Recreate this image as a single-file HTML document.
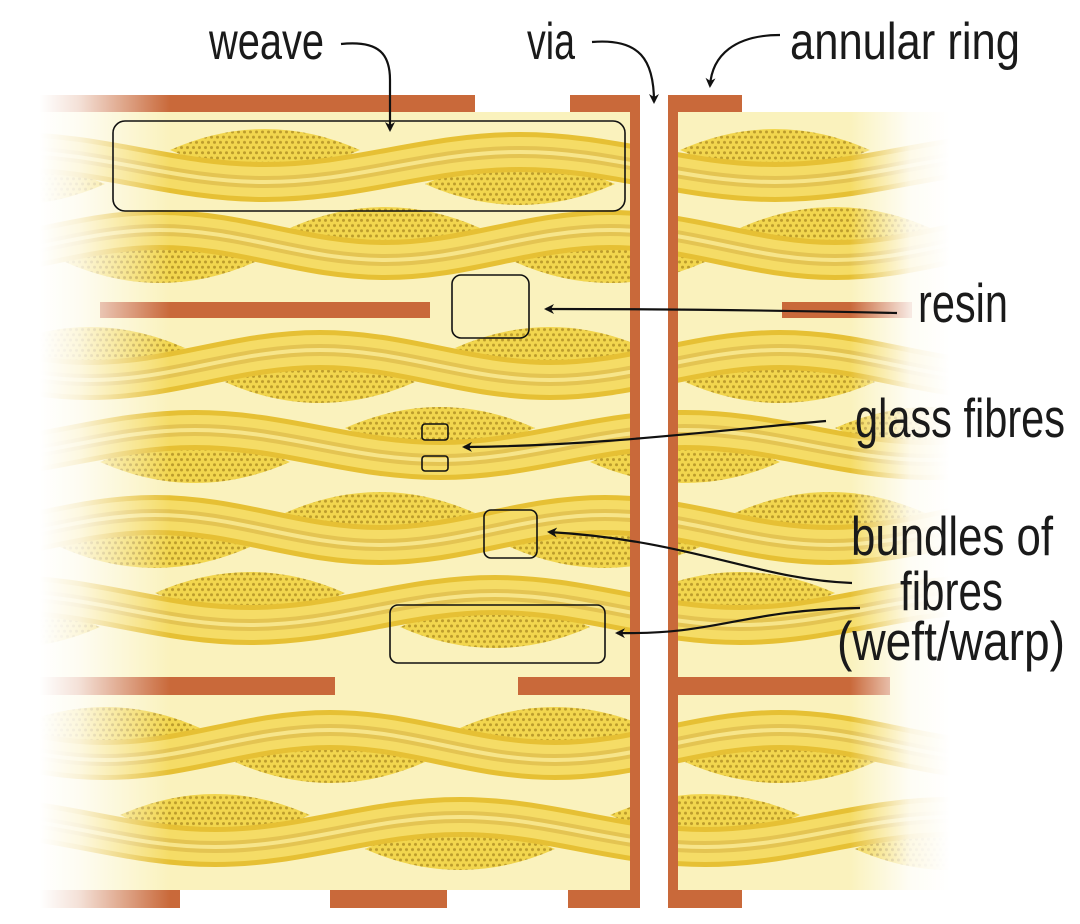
<!DOCTYPE html>
<html><head><meta charset="utf-8"><style>
html,body{margin:0;padding:0;background:#fff;}
svg{display:block;}
text{font-family:"Liberation Sans",sans-serif;fill:#1a1a1a;}
</style></head><body>
<svg width="1080" height="924" viewBox="0 0 1080 924" xmlns="http://www.w3.org/2000/svg">
<defs>
<pattern id="dots" width="6" height="10.4" patternUnits="userSpaceOnUse">
<rect width="6" height="10.4" fill="#f2d64e"/>
<circle cx="1.5" cy="2" r="1.5" fill="#bc9c2c"/>
<circle cx="4.5" cy="7.2" r="1.5" fill="#bc9c2c"/>
</pattern>
<clipPath id="board">
<rect x="0" y="112" width="630" height="778"/>
<rect x="678" y="112" width="402" height="778"/>
</clipPath>
<linearGradient id="fl" x1="0" x2="1" y1="0" y2="0">
<stop offset="0" stop-color="#fff" stop-opacity="1"/>
<stop offset="0.3" stop-color="#fff" stop-opacity="0.8"/>
<stop offset="1" stop-color="#fff" stop-opacity="0"/>
</linearGradient>
<linearGradient id="fr" x1="0" x2="1" y1="0" y2="0">
<stop offset="0" stop-color="#fff" stop-opacity="0"/>
<stop offset="0.6" stop-color="#fff" stop-opacity="0.85"/>
<stop offset="1" stop-color="#fff" stop-opacity="1"/>
</linearGradient>
<marker id="ah" markerWidth="10" markerHeight="10" refX="8" refY="5" orient="auto" markerUnits="userSpaceOnUse" viewBox="0 0 10 10">
<path d="M0,0 L10,5 L0,10 L3,5 z" fill="#111"/>
</marker>
</defs>

<rect x="40" y="112" width="590" height="778" fill="#faf2bd"/>
<rect x="678" y="112" width="280" height="778" fill="#faf2bd"/>

<g clip-path="url(#board)">
<g fill="url(#dots)">
<path d="M170,150 Q265,108 360,150 Q265,192 170,150Z"/>
<path d="M425,184 Q520,142 615,184 Q520,226 425,184Z"/>
<path d="M680,150 Q775,108 870,150 Q775,192 680,150Z"/>
<path d="M-85,184 Q10,142 105,184 Q10,226 -85,184Z"/>

<path d="M65,262 Q160,220 255,262 Q160,304 65,262Z"/>
<path d="M290,228 Q385,186 480,228 Q385,270 290,228Z"/>
<path d="M515,262 Q610,220 705,262 Q610,304 515,262Z"/>
<path d="M740,228 Q835,186 930,228 Q835,270 740,228Z"/>

<path d="M-5,348 Q90,306 185,348 Q90,390 -5,348Z"/>
<path d="M225,382 Q320,340 415,382 Q320,424 225,382Z"/>
<path d="M455,348 Q550,306 645,348 Q550,390 455,348Z"/>
<path d="M685,382 Q780,340 875,382 Q780,424 685,382Z"/>

<path d="M100,462 Q195,420 290,462 Q195,504 100,462Z"/>
<path d="M345,428 Q440,386 535,428 Q440,470 345,428Z"/>
<path d="M590,462 Q685,420 780,462 Q685,504 590,462Z"/>
<path d="M835,428 Q930,386 1025,428 Q930,470 835,428Z"/>

<path d="M60,547 Q155,505 250,547 Q155,589 60,547Z"/>
<path d="M285,513 Q380,471 475,513 Q380,555 285,513Z"/>
<path d="M510,547 Q605,505 700,547 Q605,589 510,547Z"/>
<path d="M735,513 Q830,471 925,513 Q830,555 735,513Z"/>

<path d="M155,593 Q250,551 345,593 Q250,635 155,593Z"/>
<path d="M400,627 Q495,585 590,627 Q495,669 400,627Z"/>
<path d="M645,593 Q740,551 835,593 Q740,635 645,593Z"/>
<path d="M-90,627 Q5,585 100,627 Q5,669 -90,627Z"/>

<path d="M10,728 Q105,686 200,728 Q105,770 10,728Z"/>
<path d="M235,762 Q330,720 425,762 Q330,804 235,762Z"/>
<path d="M460,728 Q555,686 650,728 Q555,770 460,728Z"/>
<path d="M685,762 Q780,720 875,762 Q780,804 685,762Z"/>

<path d="M120,815 Q215,773 310,815 Q215,857 120,815Z"/>
<path d="M365,849 Q460,807 555,849 Q460,891 365,849Z"/>
<path d="M610,815 Q705,773 800,815 Q705,857 610,815Z"/>
<path d="M855,849 Q950,807 1045,849 Q950,891 855,849Z"/>
</g>

<g fill="none">
<g stroke="#e6c034" stroke-width="40">
<path id="r1" d="M10,152 C103,152 172,182 265,182 S427,152 520,152 S682,182 775,182 S937,152 1030,152"/>
<path id="r2" d="M-65,260 C17,260 78,230 160,230 S303,260 385,260 S528,230 610,230 S753,260 835,260 S978,230 1060,230"/>
<path id="r3" d="M-140,350 C-56,350 6,380 90,380 S236,350 320,350 S466,380 550,380 S696,350 780,350 S926,380 1010,380"/>
<path id="r4" d="M-50,460 C39,460 106,430 195,430 S351,460 440,460 S596,430 685,430 S841,460 930,460 S1086,430 1175,430"/>
<path id="r5" d="M-70,545 C12,545 73,515 155,515 S298,545 380,545 S523,515 605,515 S748,545 830,545 S973,515 1055,515"/>
<path id="r6" d="M5,595 C94,595 161,625 250,625 S406,595 495,595 S651,625 740,625 S896,595 985,595"/>
<path id="r7" d="M-120,730 C-38,730 23,760 105,760 S248,730 330,730 S473,760 555,760 S698,730 780,730 S923,760 1005,760"/>
<path id="r8" d="M-30,817 C59,817 126,847 215,847 S371,817 460,817 S616,847 705,847 S861,817 950,817"/>
</g>
<g stroke="#f5dc66" stroke-width="30">
<use href="#r1"/><use href="#r2"/><use href="#r3"/><use href="#r4"/><use href="#r5"/><use href="#r6"/><use href="#r7"/><use href="#r8"/>
</g>
<g stroke="#e4c452" stroke-width="12">
<use href="#r1"/><use href="#r2"/><use href="#r3"/><use href="#r4"/><use href="#r5"/><use href="#r6"/><use href="#r7"/><use href="#r8"/>
</g>
<g stroke="#f7e58a" stroke-width="4">
<use href="#r1"/><use href="#r2"/><use href="#r3"/><use href="#r4"/><use href="#r5"/><use href="#r6"/><use href="#r7"/><use href="#r8"/>
</g>
</g>
</g>

<g fill="#c9693a">
<rect x="40" y="95" width="435" height="17"/>
<rect x="570" y="95" width="70" height="17"/>
<rect x="668" y="95" width="74" height="17"/>
<rect x="100" y="302" width="330" height="16"/>
<rect x="782" y="302" width="130" height="16"/>
<rect x="40" y="677" width="295" height="18"/>
<rect x="518" y="677" width="122" height="18"/>
<rect x="668" y="677" width="222" height="18"/>
<rect x="40" y="890" width="140" height="18"/>
<rect x="330" y="890" width="117" height="18"/>
<rect x="568" y="890" width="72" height="18"/>
<rect x="668" y="890" width="74" height="18"/>
<rect x="630" y="95" width="10" height="813"/>
<rect x="668" y="95" width="10" height="813"/>
</g>

<rect x="40" y="85" width="130" height="830" fill="url(#fl)"/>
<rect x="850" y="85" width="100" height="830" fill="url(#fr)"/>
<rect x="0" y="85" width="40" height="830" fill="#fff"/>
<rect x="950" y="85" width="130" height="830" fill="#fff"/>

<g fill="none" stroke="#111" stroke-width="1.6">
<rect x="113" y="121" width="512" height="90" rx="12"/>
<rect x="452" y="275" width="77" height="63" rx="9"/>
<rect x="422" y="424" width="26" height="16" rx="3"/>
<rect x="422" y="456" width="26" height="15" rx="3"/>
<rect x="484" y="510" width="53" height="48" rx="7"/>
<rect x="390" y="605" width="215" height="58" rx="8"/>
</g>

<g fill="none" stroke="#111" stroke-width="2.2" marker-end="url(#ah)">
<path d="M341,44 C380,40 390,55 390,80 L390,130"/>
<path d="M592,42 C640,38 654,60 654,102"/>
<path d="M780,35 C735,35 712,55 710,86"/>
<path d="M897,313 C760,310 650,309 546,309"/>
<path d="M826,421 C720,430 600,446 464,447"/>
<path d="M852,583 C760,580 690,540 549,532"/>
<path d="M860,608 C740,610 720,635 617,633"/>
</g>

<g font-size="52">
<text x="209" y="59" textLength="115" lengthAdjust="spacingAndGlyphs">weave</text>
<text x="527" y="59" textLength="48" lengthAdjust="spacingAndGlyphs">via</text>
<text x="790" y="59" textLength="230" lengthAdjust="spacingAndGlyphs">annular ring</text>
</g>
<g font-size="55">
<text x="918" y="322" textLength="90" lengthAdjust="spacingAndGlyphs">resin</text>
<text x="855" y="437" textLength="210" lengthAdjust="spacingAndGlyphs">glass fibres</text>
<text x="851" y="555" textLength="202" lengthAdjust="spacingAndGlyphs">bundles of</text>
<text x="900" y="610" textLength="103" lengthAdjust="spacingAndGlyphs">fibres</text>
<text x="837" y="660" textLength="228" lengthAdjust="spacingAndGlyphs">(weft/warp)</text>
</g>
</svg>
</body></html>
